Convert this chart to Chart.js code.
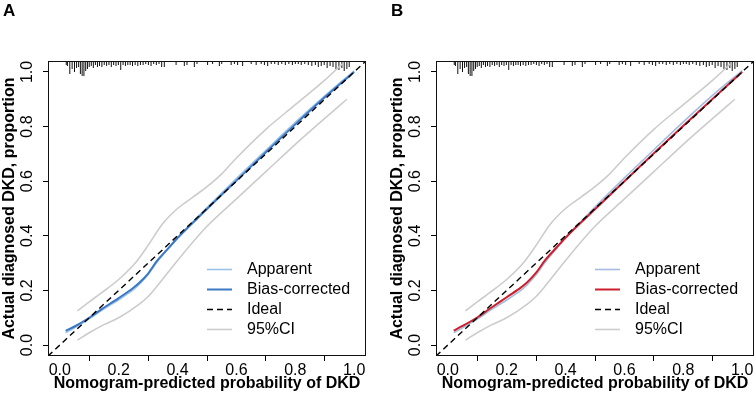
<!DOCTYPE html>
<html><head><meta charset="utf-8">
<script src="https://cdn.jsdelivr.net/npm/chart.js@4.4.1/dist/chart.umd.min.js"></script>
<style>
html,body{margin:0;padding:0;background:#fff;}
#wrap{position:relative;width:756px;height:401px;overflow:hidden;background:#fff;}
.panel{position:absolute;top:0;width:378px;height:401px;}
.lab{position:absolute;top:1px;font:bold 17px "Liberation Sans",Arial,sans-serif;color:#000;line-height:20px;}
</style></head><body>
<div id="wrap">
 <div class="panel" style="left:0"><canvas id="cA" width="378" height="401"></canvas></div>
 <div class="panel" style="left:378px"><canvas id="cB" width="378" height="401"></canvas></div>
 <div class="lab" style="left:3px">A</div>
 <div class="lab" style="left:391px">B</div>
</div>
<script>
// ---- data ----
const xTicks = [0.0, 0.2, 0.4, 0.6, 0.8, 1.0];
const yTicks = [0.0, 0.2, 0.4, 0.6, 0.8, 1.0];
const axisMin = -0.04, axisMax = 1.04;

const curveX    = [0.02, 0.05, 0.10, 0.14, 0.20, 0.25, 0.27, 0.30, 0.33, 0.37, 0.40, 0.50, 0.60, 0.70, 0.80, 0.90, 1.00];
const apparentA = [0.045,0.063,0.096,0.125,0.166,0.203,0.222,0.258,0.303,0.355,0.393,0.503,0.610,0.713,0.815,0.912,1.004];
const biasA     = [0.052,0.068,0.100,0.130,0.172,0.210,0.228,0.262,0.308,0.356,0.392,0.498,0.602,0.706,0.808,0.907,1.000];
const apparentB = [0.045,0.063,0.095,0.124,0.165,0.202,0.221,0.257,0.302,0.354,0.393,0.505,0.612,0.715,0.817,0.915,1.005];
const biasB     = [0.053,0.070,0.101,0.131,0.175,0.212,0.230,0.265,0.310,0.358,0.393,0.497,0.600,0.702,0.803,0.902,1.000];

const ciUpperX = [0.06, 0.10, 0.14, 0.20, 0.26, 0.30, 0.35, 0.40, 0.45, 0.50, 0.55, 0.60, 0.70, 0.80, 0.90, 0.96];
const ciUpperY = [0.125,0.158,0.190,0.240,0.305,0.365,0.445,0.500,0.540,0.580,0.627,0.685,0.790,0.880,0.970,1.030];
const ciLowerX = [0.06, 0.10, 0.15, 0.20, 0.27, 0.30, 0.33, 0.40, 0.50, 0.60, 0.70, 0.80, 0.90, 0.975];
const ciLowerY = [0.018,0.045,0.075,0.100,0.150,0.178,0.215,0.310,0.435,0.535,0.635,0.735,0.830,0.900];

const idealX = [-0.04, 1.04];
const idealY = [-0.04, 1.04];

const rugX = [0.022,0.026,0.034,0.042,0.050,0.057,0.064,0.070,0.076,0.082,0.088,0.094,0.100,0.107,0.114,0.121,0.128,0.135,0.143,0.151,0.159,0.167,0.175,0.183,0.191,0.199,0.207,0.215,0.223,0.231,0.239,0.247,0.256,0.265,0.274,0.283,0.292,0.301,0.310,0.319,0.328,0.337,0.346,0.355,
  0.395,0.423,0.432,0.457,0.466,0.502,0.519,0.542,0.550,0.582,0.593,0.604,0.621,0.650,0.667,0.684,0.695,0.706,0.718,0.730,0.742,0.754,0.766,0.778,0.790,0.800,0.810,0.820,0.832,0.844,0.856,0.868,0.878,0.888,0.898,0.908,0.918,0.928,0.938,0.948,0.958,0.966,0.975,0.983];
const rugN = [4,5,13,8,11,7,6,13,15,15,10,8,6,5,7,4,6,5,6,4,5,4,6,4,5,4,9,4,5,4,4,5,4,5,4,4,3,4,5,3,4,3,6,6,
  4,5,4,6,3,4,3,5,3,4,3,4,5,3,4,3,4,5,3,3,4,3,4,3,4,3,3,4,3,4,5,4,6,5,4,7,5,6,8,9,7,10,8,6];

const legendLabels = ['Apparent', 'Bias-corrected', 'Ideal', '95%CI'];
const titleX = 'Nomogram-predicted probability of DKD';
const titleY = 'Actual diagnosed DKD, proportion';

// ---- drawing ----
const FAM = '"Liberation Sans", Arial, Helvetica, sans-serif';
const RUG_UNIT = 1 / 273;   // one count ~ one pixel of rug length
const pts = (xs, ys) => xs.map((x, i) => ({x: x, y: ys[i]}));

const boxPlugin = {
  id: 'rBox',
  afterDraw(chart) {
    const {ctx, chartArea: a} = chart;
    ctx.save();
    ctx.strokeStyle = '#111';
    ctx.lineWidth = 1;
    ctx.strokeRect(Math.round(a.left) + 0.5, Math.round(a.top) + 0.5, Math.round(a.right - a.left) - 1, Math.round(a.bottom - a.top) - 1);
    ctx.restore();
  }
};

const legendPlugin = {
  id: 'rLegend',
  afterDraw(chart) {
    const {ctx, chartArea: a} = chart;
    const ds = chart.data.datasets.filter(d => d.legendIndex !== undefined)
      .sort((p, q) => p.legendIndex - q.legendIndex);
    ctx.save();
    ctx.font = '16px ' + FAM;
    ctx.textBaseline = 'middle';
    ctx.textAlign = 'left';
    ds.forEach((d, i) => {
      const y = Math.round(a.bottom - 87 + 20 * i) + 0.5;
      ctx.strokeStyle = d.borderColor;
      ctx.lineWidth = d.borderWidth;
      ctx.setLineDash(d.borderDash || []);
      ctx.beginPath();
      ctx.moveTo(a.left + 159, y);
      ctx.lineTo(a.left + 184, y);
      ctx.stroke();
      ctx.setLineDash([]);
      ctx.fillStyle = '#000';
      ctx.fillText(legendLabels[d.legendIndex], a.left + 199, y);
    });
    ctx.restore();
  }
};

function makeChart(id, apparent, bias, appColor, biasColor, padL, padR) {
  const lineBase = {type: 'line', pointRadius: 0, fill: false, cubicInterpolationMode: 'monotone'};
  return new Chart(document.getElementById(id), {
    type: 'line',
    data: {
      datasets: [
        Object.assign({}, lineBase, {label: 'Ideal', data: pts(idealX, idealY), borderColor: '#000', borderWidth: 1.4, borderDash: [6, 4], cubicInterpolationMode: 'default', tension: 0, order: 0, legendIndex: 2}),
        Object.assign({}, lineBase, {label: 'Bias-corrected', data: pts(curveX, bias), borderColor: biasColor, borderWidth: 2, order: 1, legendIndex: 1}),
        Object.assign({}, lineBase, {label: 'Apparent', data: pts(curveX, apparent), borderColor: appColor, borderWidth: 1.6, order: 2, legendIndex: 0}),
        Object.assign({}, lineBase, {label: '95%CI', data: pts(ciUpperX, ciUpperY), borderColor: '#cccccc', borderWidth: 1.6, order: 3, legendIndex: 3}),
        Object.assign({}, lineBase, {label: '95%CI lower', data: pts(ciLowerX, ciLowerY), borderColor: '#cccccc', borderWidth: 1.6, order: 4}),
        {type: 'bar', label: 'rug', data: rugX.map((x, i) => ({x: x, y: [axisMax, axisMax - rugN[i] * RUG_UNIT]})),
         backgroundColor: '#111', borderWidth: 0, barThickness: 1, grouped: false, inflateAmount: 0, order: 5}
      ]
    },
    options: {
      responsive: false, animation: false, devicePixelRatio: 1,
      layout: {padding: {left: padL, right: padR, top: 61, bottom: 0}},
      plugins: {legend: {display: false}, tooltip: {enabled: false}},
      scales: {
        x: {
          type: 'linear', min: axisMin, max: axisMax, offset: false,
          afterBuildTicks: s => { s.ticks = xTicks.map(v => ({value: v})); },
          afterFit: s => { s.height = 45; },
          grid: {display: true, drawOnChartArea: false, drawTicks: true, tickLength: 5, tickColor: '#000', tickWidth: 1},
          border: {display: false},
          ticks: {color: '#000', font: {size: 16, family: FAM}, padding: 0, maxRotation: 0, minRotation: 0,
                  callback: v => Number(v).toFixed(1)},
          title: {display: true, text: titleX, color: '#000', font: {size: 16, weight: 'bold', family: FAM}, padding: {top: 0, bottom: 8}}
        },
        y: {
          type: 'linear', min: axisMin, max: axisMax, offset: false,
          afterBuildTicks: s => { s.ticks = yTicks.map(v => ({value: v})); },
          afterFit: s => { s.width = 48; },
          grid: {display: true, drawOnChartArea: false, drawTicks: true, tickLength: 5, tickColor: '#000', tickWidth: 1},
          border: {display: false},
          ticks: {color: '#000', font: {size: 16, family: FAM}, padding: 4, minRotation: 90, maxRotation: 90, crossAlign: 'center',
                  callback: v => Number(v).toFixed(1)},
          title: {display: true, text: titleY, color: '#000', font: {size: 16, weight: 'bold', family: FAM}, padding: {top: 0, bottom: 0}}
        }
      }
    },
    plugins: [boxPlugin, legendPlugin]
  });
}

makeChart('cA', apparentA, biasA, '#9cc2e8', '#3b78c4', 0, 12);
makeChart('cB', apparentB, biasB, '#a3bde0', '#cc1f2e', 10, 2);
</script>
</body></html>
